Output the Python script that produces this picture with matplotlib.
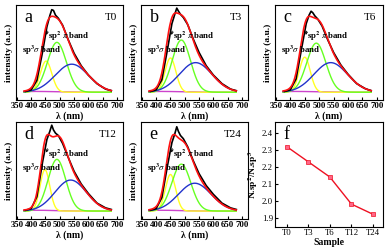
import numpy as np
import matplotlib
matplotlib.use("Agg")
import matplotlib.pyplot as plt

plt.rcParams['font.family'] = 'Liberation Serif'
plt.rcParams['mathtext.fontset'] = 'stix'

# fitted band parameters per sample: (center, sigma, amplitude)
samples = ['T0', 'T3', 'T6', 'T12', 'T24']
letters = ['a', 'b', 'c', 'd', 'e']
sp3_sigma = [(452, 20, 0.40), (450, 19, 0.44), (450, 19, 0.45), (448, 17, 0.52), (450, 18, 0.46)]
sp2_pi = [(490, 33, 0.64), (488, 32, 0.67), (490, 33, 0.63), (490, 31, 0.65), (488, 33, 0.59)]
band3 = [(542, 58, 0.36), (538, 57, 0.38), (540, 58, 0.38), (538, 55, 0.39), (535, 57, 0.35)]
band4 = [(420, 60, 0.01), (420, 60, 0.01), (420, 60, 0.01), (420, 60, 0.01), (420, 60, 0.01)]

# measured spectra (normalised)
wl = [380, 400, 420, 440, 455, 465, 472, 478, 485, 495, 510, 530, 550, 575, 600, 630, 660, 680]
meas = {
    'T0':  [0.01, 0.03, 0.15, 0.52, 0.84, 0.98, 1.06, 1.05, 0.99, 0.95, 0.86, 0.67, 0.50, 0.34, 0.22, 0.11, 0.04, 0.02],
    'T3':  [0.01, 0.03, 0.16, 0.56, 0.88, 1.00, 1.08, 1.04, 1.00, 0.96, 0.87, 0.68, 0.51, 0.34, 0.22, 0.11, 0.04, 0.02],
    'T6':  [0.01, 0.03, 0.17, 0.58, 0.88, 0.99, 1.04, 1.02, 0.98, 0.94, 0.85, 0.67, 0.51, 0.35, 0.23, 0.11, 0.045, 0.02],
    'T12': [0.01, 0.03, 0.18, 0.62, 0.90, 1.00, 1.08, 1.02, 0.98, 0.95, 0.85, 0.67, 0.50, 0.34, 0.22, 0.10, 0.04, 0.02],
    'T24': [0.01, 0.03, 0.17, 0.58, 0.86, 0.97, 1.06, 1.00, 0.95, 0.91, 0.81, 0.63, 0.47, 0.32, 0.21, 0.10, 0.04, 0.02],
}

ratio = [2.32, 2.23, 2.14, 1.98, 1.92]

# axes boxes in pixels: left, top, width, height
boxes = [(16, 5, 107, 95), (141, 5, 107, 95), (275, 5, 108, 95),
         (16, 122, 107, 97), (141, 122, 107, 97), (275, 122, 108, 105)]

W, H = 387, 249
fig = plt.figure(figsize=(W / 100, H / 100), dpi=100)


def ax_at(b):
    l, t, w, h = b
    return fig.add_axes([l / W, (H - t - h) / H, w / W, h / H])


def gauss(x, p):
    c, s, a = p
    return a * np.exp(-(x - c) ** 2 / (2 * s ** 2))


x = np.linspace(375, 680, 300)
for i, name in enumerate(samples):
    ax = ax_at(boxes[i])
    y1 = gauss(x, sp3_sigma[i])
    y2 = gauss(x, sp2_pi[i])
    y3 = gauss(x, band3[i])
    y4 = gauss(x, band4[i])
    ax.plot(x, y4, color='#cc44cc', lw=1.0)
    ax.plot(x, y1, color='#ffff22', lw=1.0)
    ax.plot(x, y2, color='#66ff22', lw=1.0)
    ax.plot(x, y3, color='#2233cc', lw=1.0)
    ax.plot(wl, meas[name], color='black', lw=1.2)
    ax.plot(x, y1 + y2 + y3 + y4, color='#ff1111', lw=1.2)
    ax.set_xlim(347, 721)
    ax.set_ylim(-0.1, 1.12)
    ax.set_yticks([])
    ax.set_xticks(range(350, 701, 50))
    ax.tick_params(axis='x', labelsize=6.3, length=2, direction='in', pad=1.5)
    for lb in ax.get_xticklabels():
        lb.set_fontweight('bold')
    ax.set_ylabel('intensity (a.u.)', fontsize=6.8, fontweight='bold', labelpad=2)
    ax.set_xlabel('λ (nm)', fontsize=7, fontweight='bold', labelpad=1)
    ax.text(0.08, 0.87, letters[i], transform=ax.transAxes, fontsize=13, va='center')
    ax.text(0.94, 0.87, name, transform=ax.transAxes, fontsize=8, ha='right', va='center')
    ax.text(458, 0.72, r'sp$^\mathbf{2}$ $\pi$ band', fontsize=6.3, fontweight='bold', va='center')
    ax.annotate('', xy=(452, 0.70), xytext=(458, 0.82),
                arrowprops=dict(arrowstyle='->', lw=0.6, color='black', mutation_scale=4))
    ax.text(368, 0.54, r'sp$^\mathbf{3}$$\sigma$ band', fontsize=6.3, fontweight='bold', va='center')

ax = ax_at(boxes[5])
ax.plot(range(len(samples)), ratio, color='#ee1122', lw=1.0, marker='s', ms=2.2,
        mfc='#ff6688', mec='#ee1122', mew=0.5)
ax.set_xlim(-0.54, 4.46)
ax.set_ylim(1.845, 2.465)
ax.set_xticks(range(len(samples)))
ax.set_xticklabels(samples)
ax.set_yticks([1.9, 2.0, 2.1, 2.2, 2.3, 2.4])
ax.tick_params(labelsize=6.3, length=2, direction='in', pad=1.5)
ax.set_xlabel('Sample', fontsize=7, fontweight='bold', labelpad=1)
ax.set_ylabel(r'N.sp$^\mathbf{2}$/N.sp$^\mathbf{3}$', fontsize=6.8, fontweight='bold', labelpad=1)
ax.text(0.08, 0.88, 'f', transform=ax.transAxes, fontsize=13, va='center')

fig.savefig('out.png', dpi=100)
